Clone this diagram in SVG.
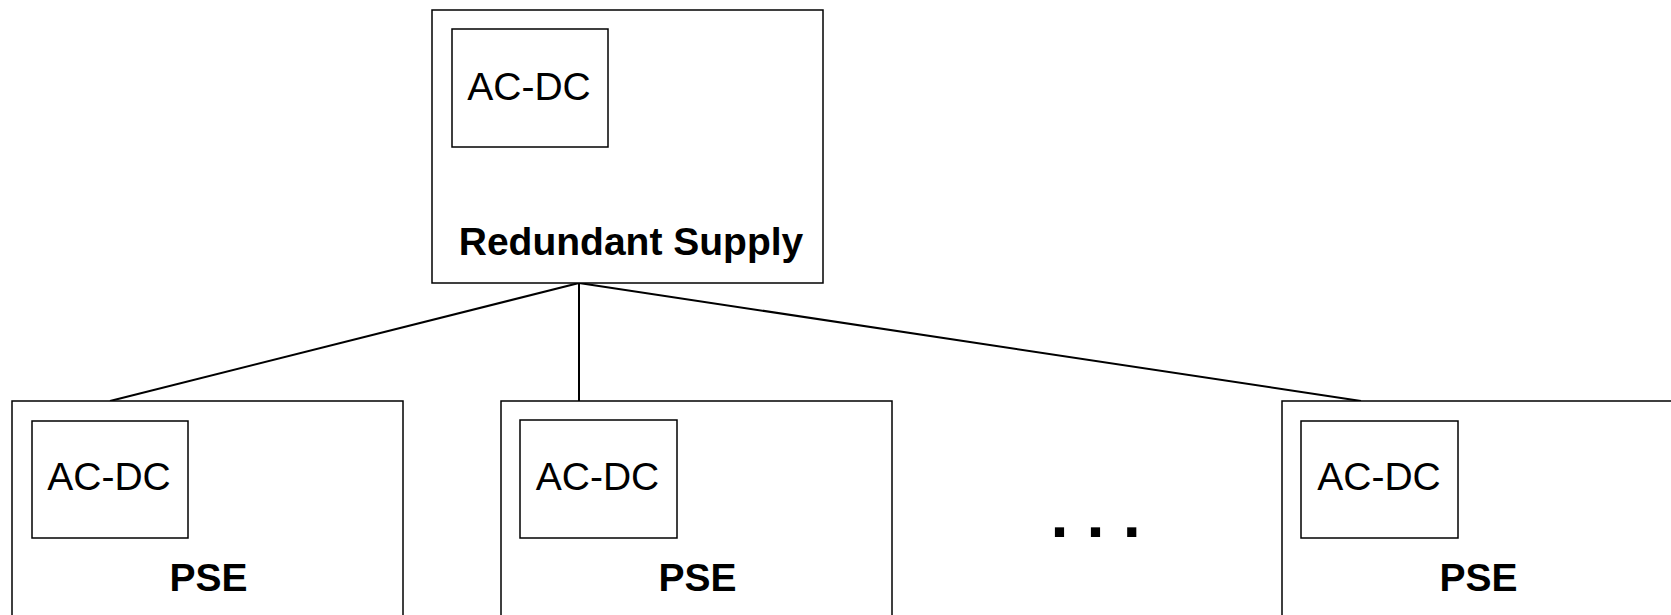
<svg xmlns="http://www.w3.org/2000/svg" width="1671" height="615" viewBox="0 0 1671 615">
<style>
.box{fill:#fff;stroke:#000;stroke-width:1.5}
.inner{fill:#fff;stroke:#000;stroke-width:1.5}
.conn{stroke:#000;stroke-width:2;fill:none}
.t{font-family:"Liberation Sans",Arial,sans-serif;font-size:39px;fill:#000;text-anchor:middle}
.b{font-weight:bold}
</style>
<rect width="1671" height="615" fill="#fff"/>
<g id="connectors">
<line class="conn" x1="579" y1="283" x2="110" y2="401"/>
<line class="conn" x1="579" y1="283" x2="579" y2="401"/>
<line class="conn" x1="579" y1="283" x2="1361" y2="401"/>
</g>
<g id="redundant-supply">
<rect class="box" x="432" y="10" width="391" height="273"/>
<rect class="inner" x="452" y="29" width="156" height="118"/>
<text class="t" x="529" y="100">AC-DC</text>
<text class="t b" x="631" y="255">Redundant Supply</text>
</g>
<g id="pse1">
<rect class="box" x="12" y="401" width="391" height="230"/>
<rect class="inner" x="32" y="421" width="156" height="117"/>
<text class="t" x="109" y="490">AC-DC</text>
<text class="t b" x="208.5" y="591">PSE</text>
</g>
<g id="pse2">
<rect class="box" x="501" y="401" width="391" height="230"/>
<rect class="inner" x="520" y="420" width="157" height="118"/>
<text class="t" x="597.5" y="490">AC-DC</text>
<text class="t b" x="697.5" y="591">PSE</text>
</g>
<g id="ellipsis">
<text x="1050.4" y="537" font-family="'Liberation Sans',Arial,sans-serif" font-size="65" font-weight="bold" fill="#000" xml:space="preserve">. . .</text>
</g>
<g id="pse3">
<rect class="box" x="1282" y="401" width="420" height="230"/>
<rect class="inner" x="1301" y="421" width="157" height="117"/>
<text class="t" x="1379" y="490">AC-DC</text>
<text class="t b" x="1478.6" y="591">PSE</text>
</g>
</svg>
